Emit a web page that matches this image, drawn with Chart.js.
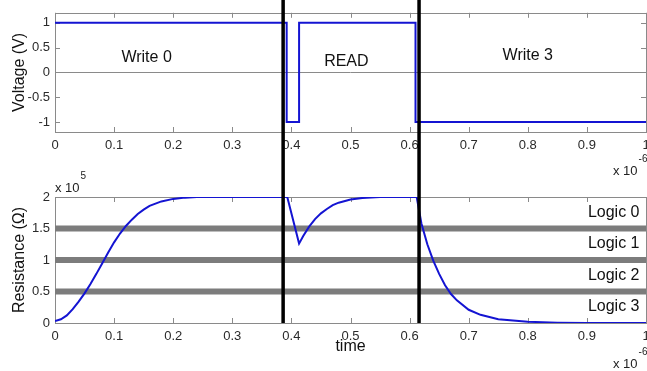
<!DOCTYPE html>
<html><head><meta charset="utf-8">
<script src="https://cdn.jsdelivr.net/npm/chart.js@4.4.1/dist/chart.umd.min.js"></script>
<style>
html,body{margin:0;padding:0;background:#fff;overflow:hidden;}
#wrap{position:relative;width:647px;height:371px;overflow:hidden;background:#fff;}
canvas{position:absolute;left:0;top:0;}
</style></head><body>
<div id="wrap"><canvas id="c1" width="680" height="371"></canvas><canvas id="c2" width="680" height="371"></canvas></div>
<script>
// ---- data (time in units of 1e-6 s, resistance in units of 1e5 ohm) ----
const voltTime   = [0, 0.392, 0.392, 0.413, 0.413, 0.610, 0.610, 1];
const voltage    = [1, 1, -1, -1, 1, 1, -1, -1];

const resTime = [0,0.01,0.02,0.03,0.04,0.05,0.06,0.07,0.08,0.09,0.10,0.11,0.12,0.13,0.14,0.15,0.16,0.18,0.20,0.22,0.24,
                 0.393,0.413,0.42,0.43,0.44,0.45,0.46,0.47,0.48,0.50,0.52,0.55,
                 0.612,0.62,0.63,0.64,0.65,0.66,0.67,0.68,0.70,0.72,0.75,0.80,0.85,0.90,1.0];
const resistance = [0.03,0.06,0.12,0.22,0.34,0.47,0.62,0.78,0.95,1.12,1.28,1.42,1.54,1.64,1.73,1.80,1.86,1.93,1.97,1.99,2.0,
                 2.0,1.26,1.38,1.53,1.65,1.74,1.81,1.87,1.91,1.96,1.985,2.0,
                 2.0,1.58,1.25,0.99,0.78,0.60,0.46,0.36,0.21,0.13,0.06,0.02,0.005,0,0];

const logicLevels = [0.5, 1.0, 1.5];
const logicLabels = ['Logic 0','Logic 1','Logic 2','Logic 3'];
const logicLabelY = [1.76, 1.26, 0.76, 0.26];
const phaseLabels = ['Write 0','READ','Write 3'];
const phaseLabelX = [0.155, 0.493, 0.80];
const phaseLabelY = [0.305, 0.21, 0.34];
const boundaries  = [0.386, 0.616];

const BLUE = '#1414d2';
const FONT = '"Liberation Sans", Arial, sans-serif';
const TICKCOL = '#2a2a2a';

const pts = (xs, ys) => xs.map((x,i)=>({x, y:ys[i]}));
const fmt = v => { const r = Math.round(v*1000)/1000; return String(r); };

const boxPlugin = {
  id:'boxPlugin',
  beforeDatasetsDraw(chart){
    const {ctx, chartArea:a, scales:{x,y}} = chart;
    ctx.save();
    ctx.strokeStyle = '#8a8a8a'; ctx.lineWidth = 1;
    ctx.strokeRect(Math.round(a.left)+0.5, Math.round(a.top)+0.5, Math.round(a.right-a.left), Math.round(a.bottom-a.top));
    ctx.beginPath();
    x.ticks.forEach(t=>{const p=Math.round(x.getPixelForValue(t.value))+0.5;
      ctx.moveTo(p,a.bottom); ctx.lineTo(p,a.bottom-5); ctx.moveTo(p,a.top); ctx.lineTo(p,a.top+5);});
    y.ticks.forEach(t=>{const p=Math.round(y.getPixelForValue(t.value))+0.5;
      ctx.moveTo(a.left,p); ctx.lineTo(a.left+5,p); ctx.moveTo(a.right,p); ctx.lineTo(a.right-5,p);});
    ctx.stroke();
    ctx.restore();
  },
  afterDatasetsDraw(chart, args, opts){
    const {ctx, chartArea:a, scales:{x,y}} = chart;
    ctx.save();
    ctx.fillStyle = '#111';
    (opts.texts||[]).forEach(t=>{
      ctx.font = '16px ' + FONT;
      ctx.textAlign = t.align || 'center';
      ctx.textBaseline = 'middle';
      ctx.fillText(t.text, x.getPixelForValue(t.x), y.getPixelForValue(t.y));
    });
    ctx.fillStyle = '#222';
    ctx.textAlign = 'left'; ctx.textBaseline = 'middle';
    (opts.mult||[]).forEach(m=>{
      const bx = m.side==='right' ? a.right-33 : a.left;
      const by = m.side==='right' ? a.bottom + m.dy : a.top + m.dy;
      ctx.font = '13px ' + FONT;
      ctx.fillText('x 10', bx, by);
      const w = ctx.measureText('x 10').width;
      ctx.font = '10px ' + FONT;
      ctx.fillText(m.exp, bx + w + 1, by - 12);
    });
    ctx.restore();
  }
};
Chart.register(boxPlugin);

function lineDS(data, color, width, extra){
  return Object.assign({data, borderColor:color, backgroundColor:color, borderWidth:width, showLine:true,
    pointRadius:0, pointHoverRadius:0, tension:0, fill:false}, extra||{});
}
function xScale(title){
  return {
    type:'linear', min:0, max:1,
    ticks:{stepSize:0.1, color:TICKCOL, font:{family:FONT,size:13}, padding:6, maxRotation:0, autoSkip:false,
      callback:v=> (Math.abs(v)<1e-9?'0':(Math.abs(v-1)<1e-9?'1':v.toFixed(1)))},
    grid:{drawOnChartArea:false, drawTicks:false},
    border:{display:false},
    title: title ? {display:true, text:title, color:'#111', font:{family:FONT,size:16}, padding:{top:0,bottom:15}} : {display:false},
    afterFit(s){ s.height = 48; }
  };
}
function yScale(min,max,title,zeroLine){
  return {
    type:'linear', min, max,
    ticks:{stepSize:0.5, includeBounds:false, color:TICKCOL, font:{family:FONT,size:13}, padding:5, callback:fmt},
    grid:{drawOnChartArea:!!zeroLine, drawTicks:false, color:c=> (zeroLine && c.tick && c.tick.value===0)?'#8a8a8a':'rgba(0,0,0,0)'},
    border:{display:false},
    title:{display:true, text:title, color:'#111', font:{family:FONT,size:16}, padding:{top:10,bottom:0}},
    afterFit(s){ s.width = 55; }
  };
}

const common = { animation:false, responsive:false, devicePixelRatio:1, events:[] };

new Chart(document.getElementById('c1'), {
  type:'scatter',
  data:{datasets:[
    lineDS(pts(voltTime, voltage), BLUE, 2)
  ]},
  options:Object.assign({}, common, {
    layout:{padding:{top:3,right:34,left:0,bottom:191}},
    plugins:{legend:{display:false}, tooltip:{enabled:false},
      boxPlugin:{
        texts: phaseLabels.map((t,i)=>({text:t, x:phaseLabelX[i], y:phaseLabelY[i]})),
        mult:[{side:'right', dy:39, exp:'-6'}]
      }},
    scales:{x:xScale(null), y:yScale(-1.2,1.2,'Voltage (V)',true)}
  })
});

new Chart(document.getElementById('c2'), {
  type:'scatter',
  data:{datasets:[
    lineDS(pts([boundaries[0],boundaries[0]],[5.5,0]), '#000', 3.5, {clip:false}),
    lineDS(pts([boundaries[1],boundaries[1]],[5.5,0]), '#000', 3.5, {clip:false}),
    lineDS(pts(resTime, resistance), BLUE, 2),
    ...logicLevels.map(v=>lineDS(pts([0,1],[v,v]), '#7c7c7c', 6))
  ]},
  options:Object.assign({}, common, {
    layout:{padding:{top:197,right:34,left:0,bottom:0}},
    plugins:{legend:{display:false}, tooltip:{enabled:false},
      boxPlugin:{
        texts: logicLabels.map((t,i)=>({text:t, x:0.989, y:logicLabelY[i], align:'right'})),
        mult:[{side:'left', dy:-9, exp:'5'},{side:'right', dy:41, exp:'-6'}]
      }},
    scales:{x:xScale('time'), y:yScale(0,2,'Resistance (\u03A9)',false)}
  })
});
</script>
</body></html>
